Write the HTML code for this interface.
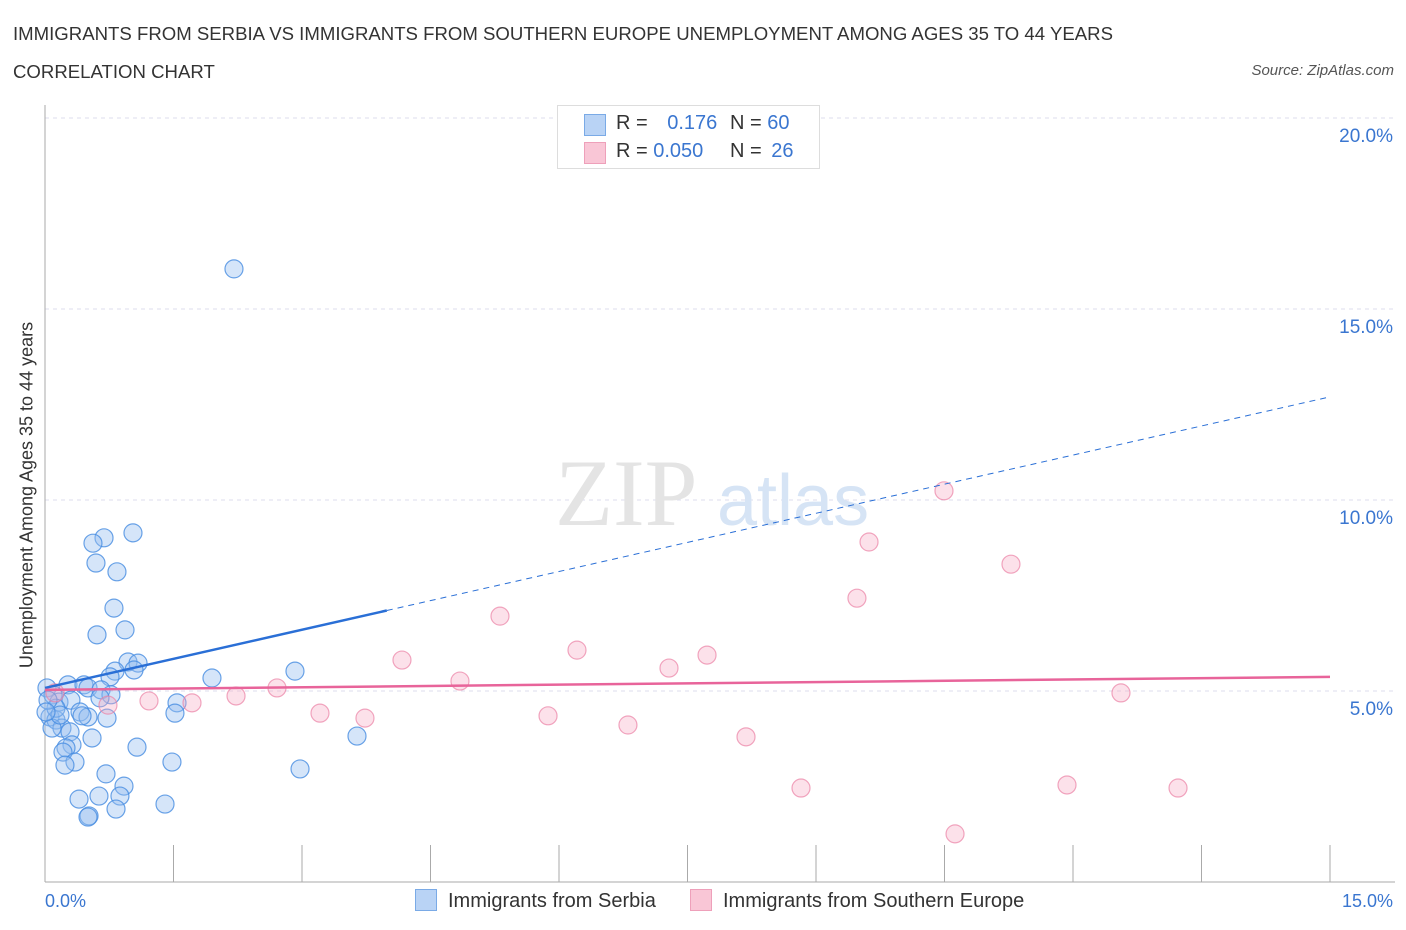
<!DOCTYPE html>
<html><head><meta charset="utf-8"><style>
body{margin:0;background:#fff;font-family:"Liberation Sans",sans-serif;}
#wrap{position:relative;width:1406px;height:930px;overflow:hidden;}
.t{position:absolute;white-space:nowrap;}
</style></head><body>
<div id="wrap">
<div class="t" style="left:13px;top:23px;font-size:18.6px;color:#333;">IMMIGRANTS FROM SERBIA VS IMMIGRANTS FROM SOUTHERN EUROPE UNEMPLOYMENT AMONG AGES 35 TO 44 YEARS</div>
<div class="t" style="left:13px;top:61px;font-size:18.6px;color:#333;">CORRELATION CHART</div>
<div class="t" style="right:12px;top:62px;font-size:15px;color:#555;font-style:italic;">Source: ZipAtlas.com</div>
<svg id="svg" width="1406" height="930" style="position:absolute;left:0;top:0"></svg>
</div>
<script>
const serbiaX=[2.206,1.027,.689,.560,.595,.840,.805,.934,.607,.969,1.086,1.039,.817,.759,1.949,2.918,.268,.455,.502,.654,.770,1.541,.023,.093,.163,.303,.409,.642,.724,1.517,.502,.058,.128,.198,.082,.292,.549,3.642,.315,.245,.210,1.074,.350,.233,1.482,2.977,.712,.922,.630,.875,.397,1.401,.829,.514,.502,.128,.035,.175,.012,.432];
const serbiaY=[16.05,9.14,9.01,8.87,8.35,8.12,7.17,6.60,6.47,5.76,5.73,5.55,5.52,5.37,5.34,5.52,5.16,5.16,5.08,5.03,4.90,4.69,5.08,4.90,4.71,4.76,4.45,4.82,4.29,4.42,4.32,4.32,4.24,4.03,4.03,3.93,3.77,3.82,3.59,3.51,3.40,3.53,3.14,3.06,3.14,2.96,2.83,2.51,2.25,2.25,2.17,2.04,1.91,1.73,1.70,4.55,4.76,4.37,4.45,4.35];
const seuX=[10.494,9.619,11.276,9.478,5.311,4.167,6.210,7.728,7.284,4.844,2.708,2.230,1.214,1.716,12.560,3.210,3.735,5.872,6.805,8.183,8.825,11.930,13.226,10.623,.735,.117];
const seuY=[10.24,8.90,8.32,7.43,6.96,5.81,6.07,5.94,5.60,5.26,5.08,4.87,4.74,4.69,4.95,4.42,4.29,4.35,4.11,3.80,2.46,2.54,2.46,1.26,4.63,4.95];
const yTicks=[5,10,15,20];
const yTickLabels=["5.0%","10.0%","15.0%","20.0%"];
const xTicks=[0,1.5,3,4.5,6,7.5,9,10.5,12,13.5,15];
const serbiaTrend=[5.08,12.70];
const serbiaSolidEnd=3.99;
const seuTrend=[5.03,5.37];

const X0=45,X1=1330,Y0=882;
const sx=v=>X0+(X1-X0)*v/15;
const sy=v=>Y0-v*191/5;
const svg=document.getElementById('svg');
const NS='http://www.w3.org/2000/svg';
function mk(tag,attrs,parent){const e=document.createElementNS(NS,tag);for(const k in attrs)e.setAttribute(k,attrs[k]);(parent||svg).appendChild(e);return e;}

yTicks.forEach((v,i)=>{
  const g=mk('line',{x1:X0,x2:1395,y1:sy(v),y2:sy(v),stroke:'#dde',"stroke-dasharray":'4,4'});
  
  
  const t=mk('text',{x:1393,y:sy(v)+24,"text-anchor":'end',fill:'#3a76d0',"font-size":'19',"font-family":'Liberation Sans,sans-serif'});
  t.textContent=yTickLabels[i];
  
  
});
const w1=mk('text',{x:555,y:525,fill:'#e4e4e4',"font-size":'95',"font-family":'Liberation Serif,serif'});w1.textContent='ZIP';


const w2=mk('text',{x:717,y:525,fill:'#d6e4f5',"font-size":'72',"font-family":'Liberation Sans,sans-serif'});w2.textContent='atlas';


const ya=mk('line',{x1:X0,x2:X0,y1:105,y2:Y0,stroke:'#aaa'});


const xa=mk('line',{x1:X0,x2:1395,y1:Y0,y2:Y0,stroke:'#aaa'});


xTicks.forEach(v=>{const t=mk('line',{x1:sx(v),x2:sx(v),y1:Y0-37,y2:Y0,stroke:'#aaa'});

});
function pts(xs,ys,fill,stroke,name){xs.forEach((x,i)=>{const c=mk('circle',{cx:sx(x),cy:sy(ys[i]),r:9,fill:fill,stroke:stroke,"stroke-width":'1.2'});

});}
pts(serbiaX,serbiaY,'rgba(150,190,240,0.4)','rgba(70,140,225,0.8)','serbia-point');
pts(seuX,seuY,'rgba(245,170,195,0.35)','rgba(235,130,165,0.7)','southern-europe-point');
const slope=(serbiaTrend[1]-serbiaTrend[0])/15;
const l1=mk('line',{x1:sx(0),y1:sy(serbiaTrend[0]),x2:sx(serbiaSolidEnd),y2:sy(serbiaTrend[0]+slope*serbiaSolidEnd),stroke:'#2a6fd6',"stroke-width":'2.5'});


const l2=mk('line',{x1:sx(serbiaSolidEnd),y1:sy(serbiaTrend[0]+slope*serbiaSolidEnd),x2:sx(15),y2:sy(serbiaTrend[1]),stroke:'#2a6fd6',"stroke-width":'1',"stroke-dasharray":'6,5'});


const l3=mk('line',{x1:sx(0),y1:sy(seuTrend[0]),x2:sx(15),y2:sy(seuTrend[1]),stroke:'#e8649a',"stroke-width":'2.5'});


</script>
<div class="t" style="left:27px;top:495px;font-size:18px;color:#333;transform:translate(-50%,-50%) rotate(-90deg);">Unemployment Among Ages 35 to 44 years</div>
<div class="t" style="left:45px;top:891px;font-size:18px;color:#3a76d0;">0.0%</div>
<div class="t" style="right:13px;top:891px;font-size:18px;color:#3a76d0;">15.0%</div>
<div style="position:absolute;left:557px;top:105px;width:261px;height:62px;border:1px solid #ddd;background:#fff;font-size:20px;color:#333;">
 <div style="position:absolute;left:26px;top:8px;width:20px;height:20px;background:#b9d3f5;border:1px solid #7aaae6;"></div>
 <div class="t" style="left:58px;top:6px;">R = <span style="color:#3a76d0;margin-left:14px">0.176</span></div>
 <div class="t" style="left:172px;top:6px;">N = <span style="color:#3a76d0">60</span></div>
 <div style="position:absolute;left:26px;top:36px;width:20px;height:20px;background:#f9c6d6;border:1px solid #eea0ba;"></div>
 <div class="t" style="left:58px;top:34px;">R = <span style="color:#3a76d0">0.050</span></div>
 <div class="t" style="left:172px;top:34px;">N = <span style="color:#3a76d0;margin-left:4px">26</span></div>
</div>
<div style="position:absolute;left:415px;top:889px;font-size:20px;color:#333;">
 <div style="position:absolute;left:0;top:0;white-space:nowrap;"><span style="display:inline-block;width:20px;height:20px;background:#b9d3f5;border:1px solid #7aaae6;vertical-align:-4px;margin-right:11px"></span>Immigrants from Serbia</div>
 <div style="position:absolute;left:275px;top:0;white-space:nowrap;"><span style="display:inline-block;width:20px;height:20px;background:#f9c6d6;border:1px solid #eea0ba;vertical-align:-4px;margin-right:11px"></span>Immigrants from Southern Europe</div>
</div>
</body></html>
